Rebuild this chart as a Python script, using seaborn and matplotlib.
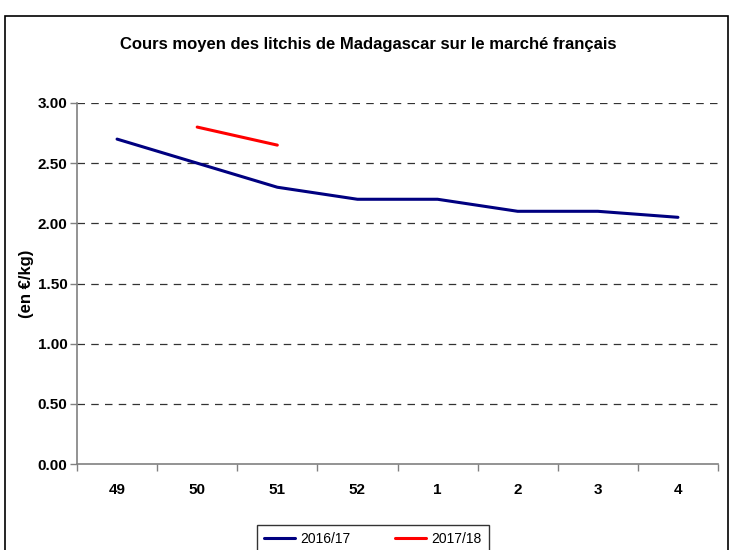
import numpy as np
import pandas as pd
import matplotlib
matplotlib.use("Agg")
import matplotlib.pyplot as plt
import seaborn as sns
from matplotlib.patches import Rectangle

weeks = ["49", "50", "51", "52", "1", "2", "3", "4"]
s1617 = [2.70, 2.50, 2.30, 2.20, 2.20, 2.10, 2.10, 2.05]
s1718 = [np.nan, 2.80, 2.65, np.nan, np.nan, np.nan, np.nan, np.nan]
series_names = ["2016/17", "2017/18"]
colors = ["#000080", "#FF0000"]
yticks = [0.0, 0.5, 1.0, 1.5, 2.0, 2.5, 3.0]

sns.set_theme(style="white")
plt.rcParams["font.family"] = ["Liberation Sans", "DejaVu Sans"]
plt.rcParams["text.color"] = "black"
plt.rcParams["axes.labelcolor"] = "black"
plt.rcParams["xtick.color"] = "black"
plt.rcParams["ytick.color"] = "black"

df = pd.DataFrame({
    "week": weeks * 2,
    "value": s1617 + s1718,
    "series": [series_names[0]] * len(weeks) + [series_names[1]] * len(weeks),
})

fig = plt.figure(figsize=(7.31, 5.5), dpi=100)
ax = fig.add_axes([77/731, 1-464/550, (718-77)/731, (464-103)/550])

sns.lineplot(data=df, x="week", y="value", hue="series", palette=colors,
             linewidth=2.2, ax=ax, sort=False, legend=True)

ax.set_ylim(0, 3.0)
ax.set_xlim(-0.5, len(weeks) - 0.5)
ax.set_yticks(yticks)
ax.set_yticklabels([f"{v:.2f}" for v in yticks], fontsize=11, fontweight="bold")
ax.set_xticks(np.arange(-0.5, len(weeks), 1.0))
ax.set_xticklabels([])
ax.set_xticks(np.arange(len(weeks)), minor=True)
ax.set_xticklabels(weeks, minor=True, fontsize=11, fontweight="bold")
ax.tick_params(axis="x", which="major", length=5, direction="out", color="#808080", width=1, bottom=True)
ax.tick_params(axis="x", which="minor", length=0, pad=14)
ax.tick_params(axis="y", length=5, direction="out", color="#808080", width=1, left=True, pad=2)

for y in yticks[1:]:
    ax.axhline(y, color="#333333", linestyle=(0, (6, 5)), linewidth=0.9, zorder=0)

for s in ["top", "right"]:
    ax.spines[s].set_visible(False)
for s in ["left", "bottom"]:
    ax.spines[s].set_color("#808080")
    ax.spines[s].set_linewidth(1.2)

ax.set_xlabel("")
ax.set_ylabel("(en €/kg)", fontsize=12, fontweight="bold", labelpad=4)
ax.yaxis.set_label_coords(-(77-34)/641, 0.5)

fig.text(368/731, 1-45/550, "Cours moyen des litchis de Madagascar sur le marché français",
         ha="center", va="center", fontsize=12, fontweight="bold")

leg = ax.get_legend()
handles, labels = ax.get_legend_handles_labels()
leg.remove()
fig.legend(handles, labels, loc="upper center", bbox_to_anchor=(373/731, 1-518/550),
           ncol=2, frameon=True, fancybox=False, edgecolor="black", fontsize=10,
           handlelength=2.2, columnspacing=3.2, borderpad=0.5, handletextpad=0.4)

fig.patches.append(Rectangle((5/731, -0.05), (728-5)/731, 1-16/550+0.05, transform=fig.transFigure,
                             fill=False, edgecolor="black", linewidth=1.2))

fig.savefig("out.png", dpi=100)
